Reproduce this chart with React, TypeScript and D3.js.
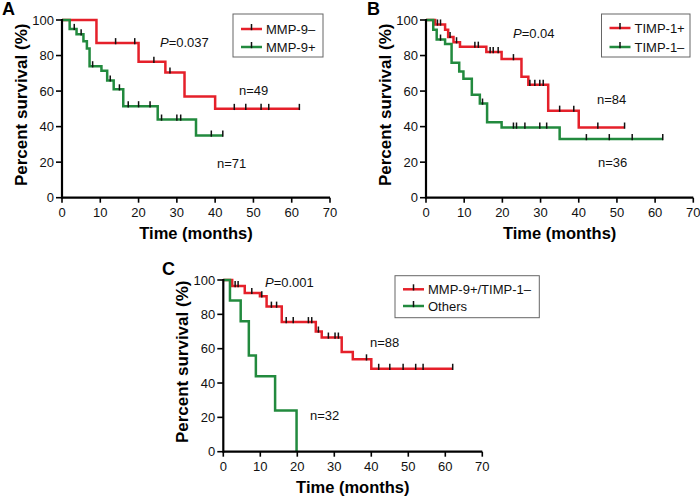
import React from "react";
import * as d3 from "d3";

// ---------- data ----------
const xTickValues = [0, 10, 20, 30, 40, 50, 60, 70];
const yTickValues = [0, 20, 40, 60, 80, 100];

// Panel A
const aNegTimes = [0, 9, 20, 27, 32, 40];
const aNegSurv = [100, 87, 76.5, 70.5, 57, 50];
const aNegEnd = 62;
const aNegCensor = [14, 19, 24, 28.2, 45, 48, 52, 54, 62];

const aPosTimes = [0, 2, 3.8, 5.6, 6.5, 7.2, 10.3, 11.8, 13.5, 16, 25, 35];
const aPosSurv = [100, 95, 92, 88, 84, 74, 71.5, 66, 61, 51.5, 44, 35];
const aPosEnd = 42;
const aPosCensor = [3.2, 5, 8, 12.6, 15, 17.3, 20, 23, 26, 30, 31, 39, 42];

// Panel B
const bPosTimes = [0, 2.4, 5, 5.8, 7.2, 8.9, 15.8, 19.8, 25, 26.8, 32, 40];
const bPosSurv = [100, 97.5, 94.5, 90.5, 87.5, 85, 82, 78, 68, 63.5, 49, 39.5];
const bPosEnd = 52;
const bPosCensor = [3, 3.8, 6.3, 8, 12.8, 13.7, 16.8, 17.6, 18.9, 22.9, 27.2, 28.5, 29.8, 30.7, 35, 38.7, 45, 52];

const bNegTimes = [0, 1.9, 2.8, 5, 6.7, 8.7, 9.8, 12, 14.1, 16, 19.8, 35];
const bNegSurv = [100, 94.5, 89, 86.5, 76, 71, 67, 58, 53, 42.5, 39.5, 33];
const bNegEnd = 62;
const bNegCensor = [3.8, 14.8, 22.9, 23.7, 25.9, 29.8, 31.6, 42, 48, 54, 62];

// Panel C
const cComboTimes = [0, 2.4, 5.8, 9.9, 11.7, 15.8, 25, 26.6, 32, 35, 40];
const cComboSurv = [100, 96.5, 92.5, 90.5, 84.5, 75.5, 70, 66.5, 58, 53.8, 48.3];
const cComboEnd = 62;
const cComboCensor = [3.2, 4, 7.7, 10.4, 13, 14.4, 17, 18.9, 23, 23.9, 25.7, 28.4, 30.2, 31.1, 38.7, 42, 45, 48.6, 52, 54, 62];

const cOtherTimes = [0, 1.8, 4.7, 6.9, 8.8, 14, 19.8];
const cOtherSurv = [100, 88, 76, 56, 44, 24, 0];
const cOtherEnd = 19.8;
const cOtherCensor: number[] = [];

const legendA = ["MMP-9–", "MMP-9+"];
const legendB = ["TIMP-1+", "TIMP-1–"];
const legendC = ["MMP-9+/TIMP-1–", "Others"];
const pA = "=0.037";
const pB = "=0.04";
const pC = "=0.001";
const nA = ["n=49", "n=71"];
const nB = ["n=84", "n=36"];
const nC = ["n=88", "n=32"];

// ---------- styles ----------
const RED = "#e5202a";
const GREEN = "#228a3e";
const FONT = "Arial, 'Liberation Sans', Helvetica, sans-serif";

type Series = { times: number[]; surv: number[]; end: number; censor: number[]; color: string };

function survAt(s: Series, t: number) {
  let v = s.surv[0];
  for (let i = 0; i < s.times.length; i++) if (s.times[i] <= t + 1e-9) v = s.surv[i];
  return v;
}

type PanelProps = {
  label: string;
  labelPos: [number, number];
  x0: number; x1: number; yTop: number; yBot: number;
  series: Series[];
  legend: string[];
  legendBox: [number, number, number, number];
  legendItemsY: [number, number];
  pText: string; pPos: [number, number];
  nTexts: string[]; nPos: [number, number][];
};

function Panel(p: PanelProps) {
  const x = d3.scaleLinear().domain([0, 70]).range([p.x0, p.x1]);
  const y = d3.scaleLinear().domain([0, 100]).range([p.yBot, p.yTop]);
  const line = d3.line<[number, number]>().x(d => x(d[0])).y(d => y(d[1])).curve(d3.curveStepAfter);
  const [lx, ly, lw, lh] = p.legendBox;
  return (
    <g>
      <text x={p.labelPos[0]} y={p.labelPos[1]} fontWeight="bold" fontSize={18} fontFamily={FONT}>{p.label}</text>
      {/* curves */}
      {p.series.map((s, i) => {
        const pts: [number, number][] = s.times.map((t, k) => [t, s.surv[k]] as [number, number]);
        pts.push([s.end, s.surv[s.surv.length - 1]]);
        return (
          <g key={i}>
            <path d={line(pts) || ""} fill="none" stroke={s.color} strokeWidth={2.5} />
            {s.censor.map((c, k) => (
              <line key={k} x1={x(c)} x2={x(c)} y1={y(survAt(s, c)) - 5} y2={y(survAt(s, c)) + 1.2} stroke="#111" strokeWidth={1.5} />
            ))}
          </g>
        );
      })}
      {/* axes */}
      <line x1={x(0)} x2={x(70)} y1={y(0)} y2={y(0)} stroke="#000" strokeWidth={2.2} />
      <line x1={x(0)} x2={x(0)} y1={y(0) + 1} y2={y(100) - 1} stroke="#000" strokeWidth={2.2} />
      {xTickValues.map(t => (
        <g key={t}>
          <line x1={x(t)} x2={x(t)} y1={y(0)} y2={y(0) + 5} stroke="#000" strokeWidth={1.6} />
          <text x={x(t)} y={y(0) + 19} textAnchor="middle" fontSize={13} fontFamily={FONT} fill="#111">{t}</text>
        </g>
      ))}
      {yTickValues.map(t => (
        <g key={t}>
          <line x1={x(0) - 6} x2={x(0)} y1={y(t)} y2={y(t)} stroke="#000" strokeWidth={1.6} />
          <text x={x(0) - 8} y={y(t)} dy="0.35em" textAnchor="end" fontSize={13} fontFamily={FONT} fill="#111">{t}</text>
        </g>
      ))}
      <text x={(p.x0 + p.x1) / 2} y={p.yBot + 41} textAnchor="middle" fontWeight="bold" fontSize={16.5} fontFamily={FONT}>Time (months)</text>
      <text transform={`translate(${p.x0 - 41},${(p.yTop + p.yBot) / 2 - 4}) rotate(-90)`} textAnchor="middle" dominantBaseline="central" fontWeight="bold" fontSize={17} fontFamily={FONT}>Percent survival (%)</text>
      {/* annotations */}
      <text x={p.pPos[0]} y={p.pPos[1]} fontSize={13} fontFamily={FONT} fill="#111"><tspan fontStyle="italic">P</tspan>{p.pText}</text>
      {p.nTexts.map((t, i) => (
        <text key={i} x={p.nPos[i][0]} y={p.nPos[i][1]} fontSize={13} fontFamily={FONT} fill="#111">{t}</text>
      ))}
      {/* legend */}
      <rect x={lx} y={ly} width={lw} height={lh} fill="#fff" stroke="#666" strokeWidth={1} />
      {p.legend.map((t, i) => {
        const iy = p.legendItemsY[i];
        const sx = lx + 8;
        return (
          <g key={i}>
            <line x1={sx} x2={sx + 21} y1={iy} y2={iy} stroke={p.series[i].color} strokeWidth={2.5} />
            <line x1={sx + 10.5} x2={sx + 10.5} y1={iy - 5} y2={iy + 1.2} stroke="#111" strokeWidth={1.5} />
            <text x={sx + 25} y={iy} dy="0.36em" fontSize={13} fontFamily={FONT} fill="#111">{t}</text>
          </g>
        );
      })}
    </g>
  );
}

export default function App() {
  const sA: Series[] = [
    { times: aNegTimes, surv: aNegSurv, end: aNegEnd, censor: aNegCensor, color: RED },
    { times: aPosTimes, surv: aPosSurv, end: aPosEnd, censor: aPosCensor, color: GREEN },
  ];
  const sB: Series[] = [
    { times: bPosTimes, surv: bPosSurv, end: bPosEnd, censor: bPosCensor, color: RED },
    { times: bNegTimes, surv: bNegSurv, end: bNegEnd, censor: bNegCensor, color: GREEN },
  ];
  const sC: Series[] = [
    { times: cComboTimes, surv: cComboSurv, end: cComboEnd, censor: cComboCensor, color: RED },
    { times: cOtherTimes, surv: cOtherSurv, end: cOtherEnd, censor: cOtherCensor, color: GREEN },
  ];
  return (
    <svg width={700} height={497} style={{ position: "absolute", left: 0, top: 0, background: "#fff" }}>
      <rect width={700} height={497} fill="#fff" />
      <Panel label="A" labelPos={[2, 15]} x0={62} x1={330} yTop={20} yBot={197.7} series={sA}
        legend={legendA} legendBox={[233, 14, 90, 43]} legendItemsY={[29, 47]}
        pText={pA} pPos={[160, 46.5]} nTexts={nA} nPos={[[239, 95], [217, 168]]} />
      <Panel label="B" labelPos={[367, 15]} x0={426} x1={693.3} yTop={20} yBot={197.7} series={sB}
        legend={legendB} legendBox={[601.5, 14, 88.5, 43]} legendItemsY={[28, 47]}
        pText={pB} pPos={[513, 37.5]} nTexts={nB} nPos={[[597, 104], [598, 166.5]]} />
      <Panel label="C" labelPos={[162, 275]} x0={223.3} x1={482.3} yTop={280} yBot={451.7} series={sC}
        legend={legendC} legendBox={[395, 275.7, 144.3, 42]} legendItemsY={[289.3, 306]}
        pText={pC} pPos={[265, 287.3]} nTexts={nC} nPos={[[370, 347.3], [310, 420]]} />
    </svg>
  );
}
